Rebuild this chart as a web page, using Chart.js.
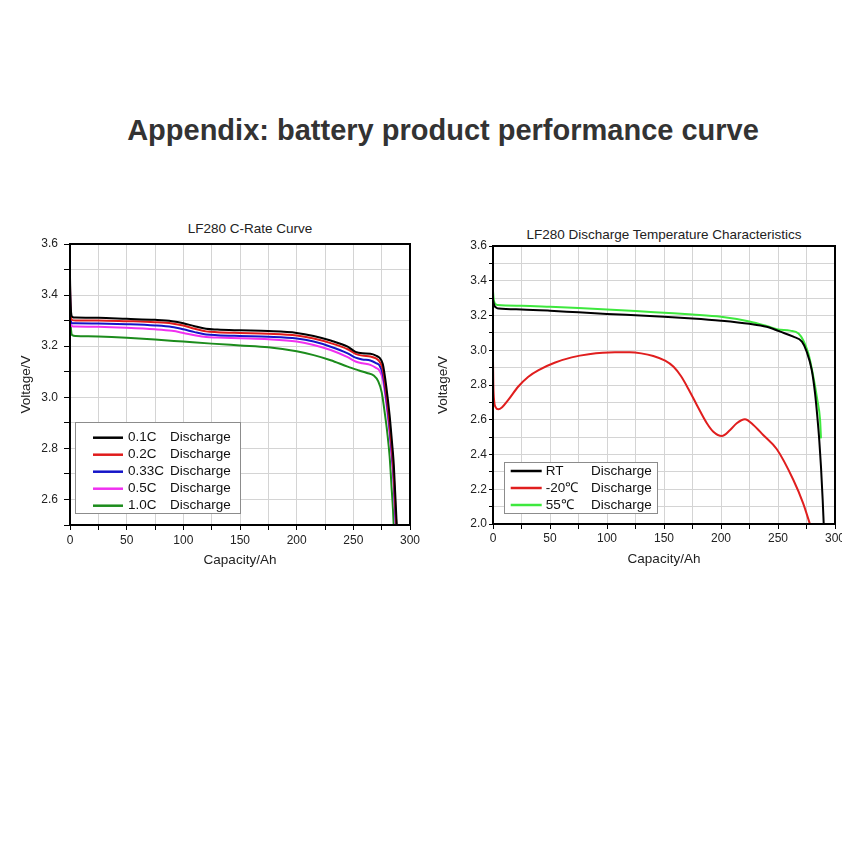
<!DOCTYPE html>
<html>
<head>
<meta charset="utf-8">
<script src="https://cdn.jsdelivr.net/npm/chart.js@4"></script>
<style>
body { margin:0; background:#fff; width:850px; height:850px; position:relative; overflow:hidden; font-family: Arial, "Liberation Sans", sans-serif; }
#title { position:absolute; left:0; width:886px; top:113px; line-height:34px; text-align:center; font-weight:bold; font-size:29px; color:#333; }
.sub { position:absolute; font-size:13.5px; line-height:16px; color:#222; white-space:nowrap; transform:translateX(-50%); }
canvas { position:absolute; }
</style>
</head>
<body>
<div id="title">Appendix: battery product performance curve</div>
<div class="sub" style="left:250px; top:221px">LF280 C-Rate Curve</div>
<div class="sub" style="left:664px; top:227px">LF280 Discharge Temperature Characteristics</div>
<canvas id="rate" width="430" height="380" style="left:0; top:200px"></canvas>
<canvas id="temp" width="422" height="380" style="left:420px; top:200px"></canvas>
<script>
// C-rate curves (capacity Ah / voltage V)
const rateLabels = ['0.1C', '0.2C', '0.33C', '0.5C', '1.0C'];
const rateColors = ['#000000', '#e01b1b', '#1414c8', '#f030f0', '#1c8c1c'];

const cap01 = [0, 0.3, 1, 2, 5, 25, 50, 75, 90, 100, 110, 120, 130, 150, 175, 200, 215, 230, 245, 252, 258, 265, 270, 273, 276, 279, 282, 284, 285.5, 287, 288.3];
const volt01 = [3.47, 3.40, 3.33, 3.315, 3.312, 3.311, 3.307, 3.303, 3.298, 3.29, 3.278, 3.268, 3.265, 3.262, 3.259, 3.252, 3.24, 3.222, 3.198, 3.178, 3.172, 3.17, 3.163, 3.155, 3.13, 3.045, 2.93, 2.83, 2.75, 2.62, 2.5];

const cap02 = [0, 0.3, 1, 2, 5, 25, 50, 75, 90, 100, 110, 120, 130, 150, 175, 200, 215, 230, 245, 252, 258, 265, 270, 273, 276, 279, 282, 284, 285.5, 287, 288];
const volt02 = [3.44, 3.36, 3.31, 3.302, 3.301, 3.301, 3.298, 3.294, 3.289, 3.281, 3.268, 3.258, 3.255, 3.252, 3.249, 3.242, 3.23, 3.212, 3.188, 3.17, 3.163, 3.16, 3.152, 3.14, 3.11, 3.02, 2.90, 2.80, 2.71, 2.58, 2.5];

const cap033 = [0, 0.3, 1, 2, 5, 25, 50, 75, 90, 100, 110, 120, 130, 150, 175, 200, 215, 230, 245, 252, 258, 265, 270, 273, 276, 279, 282, 284, 285.5, 286.8, 287.7];
const volt033 = [3.42, 3.35, 3.295, 3.29, 3.29, 3.289, 3.286, 3.281, 3.275, 3.266, 3.255, 3.246, 3.243, 3.240, 3.237, 3.23, 3.218, 3.198, 3.172, 3.155, 3.148, 3.144, 3.134, 3.125, 3.09, 3.0, 2.88, 2.78, 2.69, 2.57, 2.5];

const cap05 = [0, 0.3, 1, 2, 5, 25, 50, 75, 90, 100, 110, 120, 130, 150, 175, 200, 215, 230, 245, 252, 258, 265, 270, 273, 276, 279, 282, 284, 285.5, 286.6, 287.4];
const volt05 = [3.43, 3.34, 3.285, 3.278, 3.277, 3.276, 3.272, 3.266, 3.26, 3.252, 3.243, 3.236, 3.234, 3.231, 3.227, 3.218, 3.205, 3.185, 3.157, 3.14, 3.133, 3.127, 3.115, 3.105, 3.07, 2.98, 2.86, 2.76, 2.67, 2.56, 2.5];

const cap10 = [0, 0.3, 1, 2, 5, 25, 50, 75, 100, 125, 150, 175, 200, 215, 230, 245, 255, 262, 268, 272, 275, 278, 280, 282, 284, 285, 285.6];
const volt10 = [3.40, 3.32, 3.26, 3.243, 3.24, 3.238, 3.233, 3.226, 3.218, 3.21, 3.203, 3.196, 3.18, 3.165, 3.145, 3.12, 3.105, 3.095, 3.085, 3.062, 3.02, 2.93, 2.86, 2.77, 2.63, 2.56, 2.5];

// temperature curves
const tempLabels = ['RT', '-20\u2103', '55\u2103'];
const tempColors = ['#000000', '#e01e1e', '#3ee83e'];

const capRT = [0, 1, 3, 5, 25, 50, 75, 100, 125, 150, 175, 200, 225, 240, 252, 263.5, 271, 275, 279.6, 282.5, 284.5, 286.2, 287.7, 289.2, 290.1];
const voltRT = [3.29, 3.26, 3.245, 3.24, 3.235, 3.228, 3.218, 3.209, 3.201, 3.193, 3.183, 3.17, 3.152, 3.135, 3.107, 3.078, 3.05, 2.995, 2.886, 2.752, 2.618, 2.483, 2.33, 2.138, 2.0];

const capM20 = [0, 0.3, 1, 2.5, 4.6, 8, 13.4, 22, 31, 40, 54, 69, 84, 107, 120, 130, 140.6, 151, 158.4, 165, 172, 178.8, 187.6, 193.3, 200.7, 208, 213.8, 221, 228.4, 237, 249, 263.5, 272, 278];
const voltM20 = [2.944, 2.80, 2.71, 2.67, 2.66, 2.672, 2.714, 2.79, 2.848, 2.886, 2.928, 2.959, 2.977, 2.988, 2.988, 2.982, 2.967, 2.94, 2.905, 2.85, 2.77, 2.685, 2.58, 2.531, 2.506, 2.541, 2.58, 2.603, 2.57, 2.512, 2.43, 2.253, 2.12, 2.0];

const cap55 = [0, 0.5, 1.5, 4, 25, 50, 75, 100, 125, 150, 175, 200, 225, 240, 250, 260.6, 268, 272, 276.6, 281, 284.5, 286.9, 287.7];
const volt55 = [3.34, 3.30, 3.27, 3.26, 3.256, 3.25, 3.243, 3.235, 3.226, 3.216, 3.206, 3.193, 3.166, 3.14, 3.12, 3.113, 3.097, 3.059, 2.982, 2.848, 2.714, 2.6, 2.493];

const legendSuffix = 'Discharge';
const xTitle = 'Capacity/Ah';
const yTitle = 'Voltage/V';

Chart.defaults.font.family = 'Arial, "Liberation Sans", sans-serif';
Chart.defaults.color = '#222';

function pts(xs, ys) {
    return xs.map((x, i) => ({ x: x, y: ys[i] }));
}

function series(label, color, xs, ys) {
    return {
        label: label,
        data: pts(xs, ys),
        borderColor: color,
        borderWidth: 2,
        pointRadius: 0,
        fill: false,
        cubicInterpolationMode: 'monotone'
    };
}

// frame on top/right + legend inside the plot
const frameLegend = {
    id: 'frameLegend',
    afterDraw(chart, args, o) {
        const ctx = chart.ctx;
        const a = chart.chartArea;
        ctx.save();
        ctx.strokeStyle = '#000';
        ctx.lineWidth = 2;
        ctx.strokeRect(a.left, a.top, a.right - a.left, a.bottom - a.top);

        const b = o.box;
        ctx.fillStyle = '#fff';
        ctx.fillRect(b.x, b.y, b.w, b.h);
        ctx.strokeStyle = '#8c8c8c';
        ctx.lineWidth = 1;
        ctx.strokeRect(b.x + 0.5, b.y + 0.5, b.w, b.h);
        ctx.font = '13.5px Arial, "Liberation Sans", sans-serif';
        ctx.textBaseline = 'middle';
        chart.data.datasets.forEach((ds, i) => {
            const y = b.y + o.firstRow + i * o.rowStep;
            ctx.strokeStyle = ds.borderColor;
            ctx.lineWidth = 2.5;
            ctx.beginPath();
            ctx.moveTo(b.x + o.lineFrom, y);
            ctx.lineTo(b.x + o.lineTo, y);
            ctx.stroke();
            ctx.fillStyle = '#111';
            ctx.fillText(ds.label, b.x + o.nameX, y);
            ctx.fillText(legendSuffix, b.x + o.suffixX, y);
        });
        ctx.restore();
    }
};

function makeChart(id, datasets, yMin, lay, legend) {
    new Chart(document.getElementById(id), {
        type: 'line',
        data: { datasets: datasets },
        options: {
            responsive: false,
            animation: false,
            layout: { padding: { top: lay.top, right: lay.right, left: 0, bottom: 0 } },
            plugins: {
                legend: { display: false },
                title: { display: false },
                tooltip: { enabled: false },
                frameLegend: legend
            },
            scales: {
                x: {
                    type: 'linear', min: 0, max: 300,
                    ticks: {
                        stepSize: 25, autoSkip: false, maxRotation: 0,
                        padding: lay.xPad, font: { size: 12 }, color: '#222',
                        callback: v => (v % 50 === 0 ? String(v) : '')
                    },
                    grid: { color: '#d4d4d4', lineWidth: 1, tickColor: '#000', tickLength: 5 },
                    border: { color: '#000', width: 2 },
                    title: { display: true, text: xTitle, font: { size: 13.5 }, color: '#222', padding: { top: 0, bottom: lay.xTitlePad } },
                    afterFit: s => { s.height = lay.xH; s.paddingLeft = 0; s.paddingRight = 0; s.paddingTop = 0; s.paddingBottom = 0; }
                },
                y: {
                    type: 'linear', min: yMin, max: 3.6,
                    ticks: {
                        stepSize: 0.1, autoSkip: false,
                        padding: lay.yPad, font: { size: 12 }, color: '#222',
                        callback: v => (Math.round(v * 10) % 2 === 0 ? v.toFixed(1) : '')
                    },
                    grid: { color: '#d4d4d4', lineWidth: 1, tickColor: '#000', tickLength: lay.yTick },
                    border: { color: '#000', width: 2 },
                    title: { display: true, text: yTitle, font: { size: 13.5 }, color: '#222', padding: { top: lay.yTitlePad, bottom: 0 } },
                    afterFit: s => { s.width = lay.yW; s.paddingLeft = 0; s.paddingRight = 0; s.paddingTop = 0; s.paddingBottom = 0; }
                }
            }
        },
        plugins: [frameLegend]
    });
}

makeChart('rate', [
    series(rateLabels[0], rateColors[0], cap01, volt01),
    series(rateLabels[1], rateColors[1], cap02, volt02),
    series(rateLabels[2], rateColors[2], cap033, volt033),
    series(rateLabels[3], rateColors[3], cap05, volt05),
    series(rateLabels[4], rateColors[4], cap10, volt10)
], 2.5,
{ top: 44, right: 20, xH: 55, yW: 70, xPad: 3, yPad: 6, yTick: 6, xTitlePad: 12, yTitlePad: 18 },
{ box: { x: 75, y: 222, w: 165, h: 91 }, firstRow: 15.7, rowStep: 17, lineFrom: 18, lineTo: 48, nameX: 53, suffixX: 95 });

makeChart('temp', [
    series(tempLabels[0], tempColors[0], capRT, voltRT),
    series(tempLabels[1], tempColors[1], capM20, voltM20),
    series(tempLabels[2], tempColors[2], cap55, volt55)
], 2.0,
{ top: 46, right: 7, xH: 56, yW: 73, xPad: 2, yPad: 2, yTick: 4, xTitlePad: 12.6, yTitlePad: 15 },
{ box: { x: 84, y: 262, w: 153, h: 51 }, firstRow: 9, rowStep: 17, lineFrom: 6.7, lineTo: 37.7, nameX: 41.7, suffixX: 87 });
</script>
</body>
</html>
